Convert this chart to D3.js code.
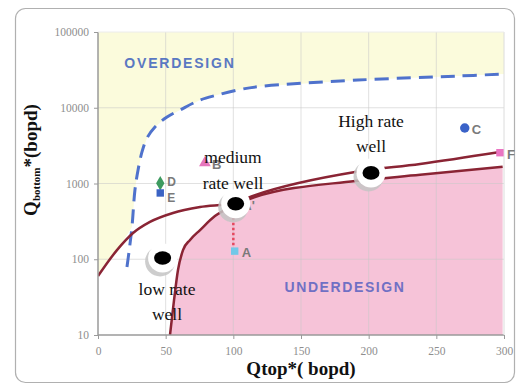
<!DOCTYPE html>
<html><head><meta charset="utf-8">
<script src="https://cdn.jsdelivr.net/npm/d3@7"></script>
<style>body{margin:0;background:#fff}svg{display:block}</style>
</head><body>
<svg id="c" width="518" height="385"></svg>
<script>
// ---- data ----
const xTicks = [0, 50, 100, 150, 200, 250, 300];
const yTicks = [10, 100, 1000, 10000, 100000];
const yTickLabels = ["10", "100", "1000", "10000", "100000"];

// blue dashed boundary (overdesign limit)
const dashQ  = [21.4, 22.9, 25.1, 27.3, 29.6, 32.5, 36.2, 42.1, 51.0, 60.6, 75.4, 87.9, 104.9, 119.7, 192, 266, 300];
const dashQb = [79, 125, 267, 820, 1510, 2610, 3980, 5570, 7550, 9340, 12650, 14700, 17400, 19080, 23200, 26200, 27900];

// upper dark red curve
const upQ  = [0, 14.0, 25.9, 38.4, 55.4, 75.4, 99.8, 116, 190, 238, 297];
const upQb = [60, 132, 222, 311, 408, 489, 550, 703, 1420, 1810, 2600];

// lower (steep) dark red curve, bounds underdesign region
const loQ  = [53.2, 56.2, 59.1, 62.8, 68.0, 75.4, 86.4, 99.8, 116, 190, 238, 299];
const loQb = [10, 29, 72, 132, 180, 243, 372, 505, 663, 1080, 1300, 1660];

// labelled design points
const ptNames = ["D", "E", "B", "A", "C", "F"];
const ptQ     = [46, 46, 79, 101, 271, 297];
const ptQb    = [1010, 750, 1870, 128, 5400, 2550];
const ptShape = ["diamond", "square", "triangle", "square", "circle", "square"];
const ptColor = ["#3d9a5f", "#3a62c4", "#e676bd", "#72c8e8", "#3a62c8", "#ea74c2"];

// A' (start of dotted line) -> A
const aPrimeQ = 100, aPrimeQb = 480;

// well-type badges and captions
const wellNames = [["low rate", "well"], ["medium", "rate well"], ["High rate", "well"]];
const wellQ  = [47, 101, 201];
const wellQb = [104, 540, 1380];

// ---- layout ----
const svg = d3.select("#c");
const L = 98, R = 504, T = 32, B = 335;
const x = d3.scaleLinear().domain([0, 300]).range([L, R]);
const y = d3.scaleLog().domain([10, 100000]).range([B, T]);

// outer frame
svg.append("rect").attr("x", 15.5).attr("y", 8.5).attr("width", 499).attr("height", 374)
  .attr("rx", 10).attr("fill", "#fff").attr("stroke", "#b0b0b0").attr("stroke-width", 1.2);

svg.append("clipPath").attr("id", "pc").append("rect")
  .attr("x", L).attr("y", T).attr("width", R - L).attr("height", B - T);
const g = svg.append("g").attr("clip-path", "url(#pc)");

g.append("rect").attr("x", L).attr("y", T).attr("width", R - L).attr("height", B - T).attr("fill", "#fff");

const dash = dashQ.map((q, i) => [q, dashQb[i]]);
const up = upQ.map((q, i) => [q, upQb[i]]);
const lo = loQ.map((q, i) => [q, loQb[i]]);

const line = d3.line().x(d => x(d[0])).y(d => y(d[1])).curve(d3.curveMonotoneX);
const lineC = d3.line().x(d => x(d[0])).y(d => y(d[1])).curve(d3.curveCatmullRom.alpha(0.5));

// yellow overdesign region: above the dashed line, left part bounded below by the upper red curve
const yellowPts = [[0, 100000], [300, 100000]]
  .concat(dash.slice().reverse().filter(d => d[1] >= 240))
  .concat([[23.6, 240]])
  .concat(up.filter(d => d[0] < 23.6).reverse())
  .concat([[0, 60]]);
g.append("path")
  .attr("d", d3.line().x(d => x(d[0])).y(d => y(d[1])).curve(d3.curveLinear)(yellowPts) + "Z")
  .attr("fill", "#fbfbdc");

// pink underdesign region
g.append("path")
  .attr("d", d3.area().x(d => x(d[0])).y0(y(10)).y1(d => y(d[1])).curve(d3.curveMonotoneX)(lo))
  .attr("fill", "#f6c3d8");

// grid
g.selectAll(".vg").data(xTicks.slice(1, -1)).join("line")
  .attr("x1", d => x(d)).attr("x2", d => x(d)).attr("y1", T).attr("y2", B)
  .attr("stroke", "#c9c9c9").attr("stroke-opacity", 0.55).attr("stroke-width", 1);
g.selectAll(".hg").data(yTicks.slice(1, -1)).join("line")
  .attr("x1", L).attr("x2", R).attr("y1", d => y(d)).attr("y2", d => y(d))
  .attr("stroke", "#c9c9c9").attr("stroke-opacity", 0.55).attr("stroke-width", 1);

// curves
g.append("path").attr("d", lineC(dash)).attr("fill", "none")
  .attr("stroke", "#4f72cc").attr("stroke-width", 3).attr("stroke-dasharray", "14,8");
g.append("path").attr("d", line(up)).attr("fill", "none")
  .attr("stroke", "#8a2434").attr("stroke-width", 2.5);
g.append("path").attr("d", line(lo)).attr("fill", "none")
  .attr("stroke", "#8a2434").attr("stroke-width", 2.5);

// dotted A' -> A
g.append("line").attr("x1", x(aPrimeQ)).attr("x2", x(aPrimeQ))
  .attr("y1", y(aPrimeQb)).attr("y2", y(ptQb[3]) - 5)
  .attr("stroke", "#e5475f").attr("stroke-width", 2.5).attr("stroke-dasharray", "2.5,2.5");

// axes
svg.append("line").attr("x1", L).attr("x2", L).attr("y1", T).attr("y2", B).attr("stroke", "#9a9a9a").attr("stroke-width", 1.5);
svg.append("line").attr("x1", L).attr("x2", R).attr("y1", B).attr("y2", B).attr("stroke", "#9a9a9a").attr("stroke-width", 1.5);
svg.append("line").attr("x1", R).attr("x2", R).attr("y1", T).attr("y2", B).attr("stroke", "#dcdcdc").attr("stroke-width", 1);
svg.append("line").attr("x1", L).attr("x2", R).attr("y1", T).attr("y2", T).attr("stroke", "#ececec").attr("stroke-width", 1);

const yAx = d3.axisLeft(y).tickValues(yTicks).tickFormat((d, i) => yTickLabels[i]).tickSize(4).tickPadding(5);
const ya = svg.append("g").attr("transform", `translate(${L},0)`).call(yAx);
const xAx = d3.axisBottom(x).tickValues(xTicks).tickFormat(d3.format("d")).tickSize(4).tickPadding(8);
const xa = svg.append("g").attr("transform", `translate(0,${B})`).call(xAx);
[ya, xa].forEach(a => {
  a.select(".domain").remove();
  a.selectAll(".tick line").attr("stroke", "#9a9a9a");
  a.selectAll(".tick text").attr("fill", "#8e8e8e").attr("font-family", "Liberation Serif, serif").attr("font-size", 11.5);
});

// region labels
svg.append("text").attr("x", 180).attr("y", 68).attr("text-anchor", "middle")
  .attr("font-family", "Liberation Sans, Arial, sans-serif").attr("font-weight", "bold").attr("font-size", 14)
  .attr("letter-spacing", 1.8).attr("fill", "#5a78c2").text("OVERDESIGN");
svg.append("text").attr("x", 345).attr("y", 292).attr("text-anchor", "middle")
  .attr("font-family", "Liberation Sans, Arial, sans-serif").attr("font-weight", "bold").attr("font-size", 14)
  .attr("letter-spacing", 1.6).attr("fill", "#7070c4").text("UNDERDESIGN");

// points
const pg = svg.append("g");
const lblDy = [3, 9, 6, 6, 6, 6];
const lblFs = [12, 12, 13, 13, 13, 13];
ptNames.forEach((n, i) => {
  const cx = x(ptQ[i]), cy = y(ptQb[i]);
  let sym;
  if (ptShape[i] === "diamond") sym = d3.symbol(d3.symbolDiamond, 60);
  else if (ptShape[i] === "square") sym = d3.symbol(d3.symbolSquare, 55);
  else if (ptShape[i] === "triangle") sym = d3.symbol(d3.symbolTriangle, 60);
  else sym = d3.symbol(d3.symbolCircle, 70);
  pg.append("path").attr("d", sym()).attr("transform", `translate(${cx},${cy})`).attr("fill", ptColor[i]);
  pg.append("text").attr("x", cx + 7).attr("y", cy + lblDy[i])
    .attr("font-family", "Liberation Sans, Arial, sans-serif").attr("font-weight", "bold").attr("font-size", lblFs[i])
    .attr("fill", "#7a7a7a").text(n);
});
pg.append("text").attr("x", x(aPrimeQ) + 9).attr("y", y(aPrimeQb) + 2)
  .attr("font-family", "Liberation Sans, Arial, sans-serif").attr("font-weight", "bold").attr("font-size", 13)
  .attr("fill", "#7a7a7a").text("A'");

// badges
const bg = svg.append("g");
wellQ.forEach((q, i) => {
  const cx = x(q) + 1, cy = y(wellQb[i]);
  bg.append("circle").attr("cx", cx - 2.5).attr("cy", cy + 3.5).attr("r", 15).attr("fill", "#c4c4c4").attr("opacity", 0.85);
  bg.append("circle").attr("cx", cx).attr("cy", cy).attr("r", 14.5).attr("fill", "#fff");
  bg.append("ellipse").attr("cx", cx).attr("cy", cy).attr("rx", 8.5).attr("ry", 6.8).attr("fill", "#000");
});

// captions
const capPos = [[167, 295, 320], [233, 163, 189], [371, 127, 152]];
wellNames.forEach((lines, i) => {
  lines.forEach((t, j) => {
    svg.append("text").attr("x", capPos[i][0]).attr("y", capPos[i][1 + j]).attr("text-anchor", "middle")
      .attr("font-family", "Liberation Serif, 'Times New Roman', serif").attr("font-size", 17.5)
      .attr("fill", "#111").text(t);
  });
});

// axis titles
const yt = svg.append("text").attr("transform", "translate(37,160) rotate(-90)").attr("text-anchor", "middle")
  .attr("font-family", "Liberation Serif, 'Times New Roman', serif").attr("font-weight", "bold").attr("fill", "#111");
yt.append("tspan").attr("font-size", 19).text("Q");
yt.append("tspan").attr("font-size", 11).attr("dy", 3).text("bottom");
yt.append("tspan").attr("font-size", 19).attr("dy", -3).text("*(bopd)");

svg.append("text").attr("x", 301).attr("y", 375).attr("text-anchor", "middle")
  .attr("font-family", "Liberation Serif, 'Times New Roman', serif").attr("font-weight", "bold").attr("font-size", 19)
  .attr("fill", "#111").text("Qtop*( bopd)");
</script>
</body></html>
